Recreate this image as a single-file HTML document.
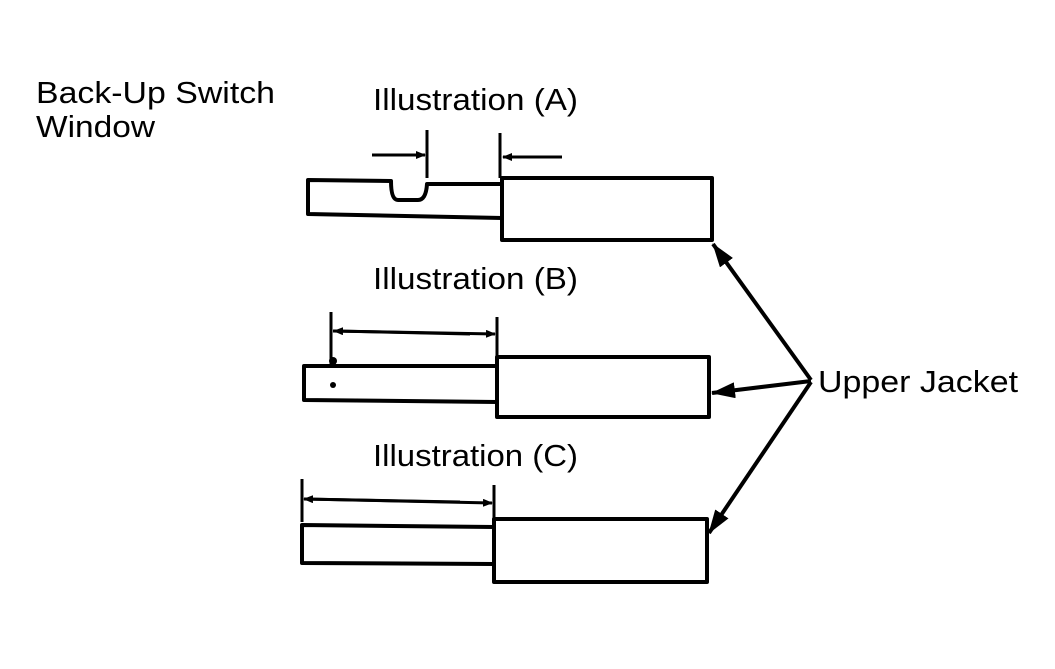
<!DOCTYPE html>
<html><head><style>
body{margin:0;background:#fff;width:1055px;height:664px;overflow:hidden}
</style></head><body>
<svg width="1055" height="664" viewBox="0 0 1055 664" xmlns="http://www.w3.org/2000/svg">
<defs>
<marker id="ah" markerWidth="10" markerHeight="8" refX="9" refY="4" orient="auto" markerUnits="userSpaceOnUse" viewBox="0 0 10 8">
<path d="M0,0 L10,4 L0,8 Z" fill="#000"/></marker>
<marker id="big" markerWidth="24" markerHeight="16" refX="23" refY="8" orient="auto" markerUnits="userSpaceOnUse" viewBox="0 0 24 16">
<path d="M0,0 L24,8 L0,16 Z" fill="#000"/></marker>
</defs>
<g font-family="Liberation Sans, sans-serif" font-size="31" fill="#000">
<text x="36" y="103" textLength="239" lengthAdjust="spacingAndGlyphs">Back-Up Switch</text>
<text x="36" y="137" textLength="119" lengthAdjust="spacingAndGlyphs">Window</text>
<text x="373" y="110" textLength="205" lengthAdjust="spacingAndGlyphs">Illustration (A)</text>
<text x="373" y="289" textLength="205" lengthAdjust="spacingAndGlyphs">Illustration (B)</text>
<text x="373" y="466" textLength="205" lengthAdjust="spacingAndGlyphs">Illustration (C)</text>
<text x="818" y="392" textLength="200" lengthAdjust="spacingAndGlyphs">Upper Jacket</text>
</g>
<g fill="none" stroke="#000" stroke-width="4" stroke-linejoin="round">
<path d="M502,184 L427,184 Q426,200 418,200 L398,200 Q391,200 391,181 L308,180 L308,214 L502,218"/>
<rect x="502" y="178" width="210" height="62"/>
<path d="M497,366 L304,366 L304,400 L497,402"/>
<rect x="497" y="357" width="212" height="60"/>
<path d="M494,527 L302,525 L302,563 L494,564"/>
<rect x="494" y="519" width="213" height="63"/>
</g>
<g stroke="#000" stroke-width="3" fill="none">
<line x1="427" y1="130" x2="427" y2="178"/>
<line x1="500" y1="133" x2="500" y2="178"/>
<line x1="372" y1="155" x2="425" y2="155" marker-end="url(#ah)"/>
<line x1="562" y1="157" x2="503" y2="157" marker-end="url(#ah)"/>
<line x1="331" y1="312" x2="331" y2="364"/>
<line x1="497" y1="317" x2="497" y2="358"/>
<line x1="333" y1="331" x2="495" y2="334" marker-end="url(#ah)"/>
<line x1="470" y1="334" x2="334" y2="331" marker-end="url(#ah)"/>
<line x1="302" y1="479" x2="302" y2="522"/>
<line x1="494" y1="485" x2="494" y2="520"/>
<line x1="304" y1="499" x2="492" y2="503" marker-end="url(#ah)"/>
<line x1="460" y1="502" x2="304" y2="499" marker-end="url(#ah)"/>
</g>
<circle cx="333" cy="361" r="4" fill="#000"/>
<circle cx="333" cy="385" r="3" fill="#000"/>
<g stroke="#000" stroke-width="4" fill="none">
<line x1="811" y1="380" x2="713" y2="244" marker-end="url(#big)"/>
<line x1="811" y1="381" x2="712" y2="393" marker-end="url(#big)"/>
<line x1="811" y1="382" x2="709" y2="533" marker-end="url(#big)"/>
</g>
</svg>
</body></html>
